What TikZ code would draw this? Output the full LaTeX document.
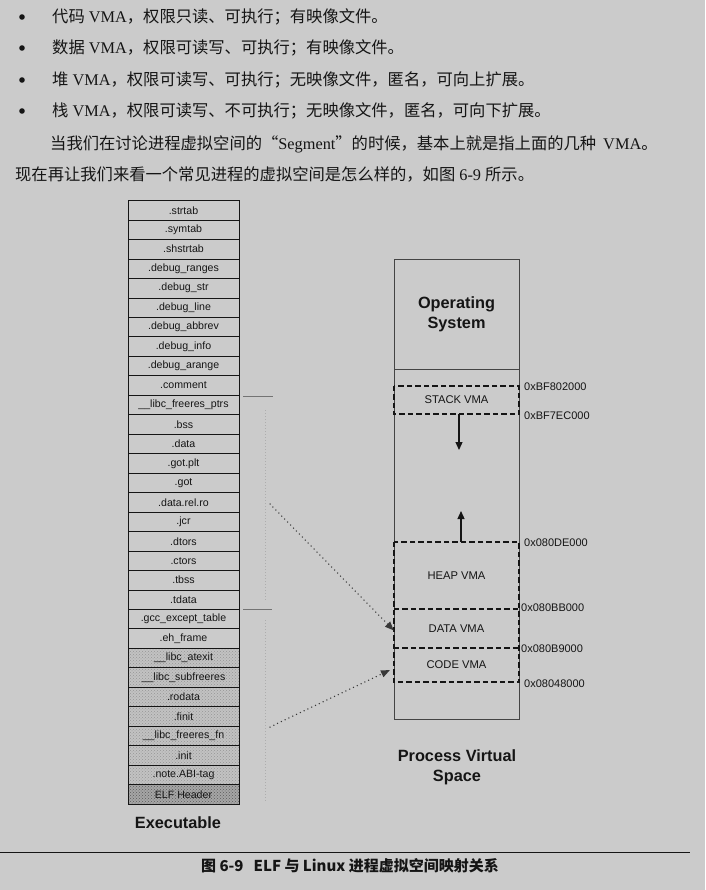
\documentclass[tikz,border=0pt]{standalone}
\usepackage{fontspec}
\setmainfont{Liberation Serif}
\setsansfont{Liberation Sans}
\newfontfamily\cjk{Noto Sans CJK SC}
\usetikzlibrary{arrows.meta,patterns}
\definecolor{bg}{HTML}{CBCBCB}
\definecolor{ink}{HTML}{151515}
\definecolor{shadeA}{HTML}{C2C2C2}
\definecolor{shadeB}{HTML}{A6A6A6}
\begin{document}
\begin{tikzpicture}[x=1pt,y=-1pt,
  bodytext/.style={anchor=west,inner sep=0pt,text=ink,font=\fontsize{16.3}{19}\selectfont},
  secrow/.style={draw=ink,line width=0.7pt,minimum width=111pt,minimum height=19.47pt,inner sep=0pt,text=ink,font=\sffamily\fontsize{10.6}{12}\selectfont},
  vasbox/.style={draw=ink!80,line width=0.7pt,minimum width=125pt,inner sep=0pt},
  vma/.style={minimum width=125pt,inner sep=0pt,text=ink,font=\sffamily\fontsize{11.2}{13}\selectfont},
  vmaline/.style={draw=ink,line width=1.8pt,dash pattern=on 5.5pt off 3pt},
  hexlab/.style={anchor=west,inner sep=0pt,text=ink,font=\sffamily\fontsize{11}{13}\selectfont},
  biglab/.style={align=center,inner sep=0pt,text=ink,font=\sffamily\bfseries\fontsize{16.3}{20}\selectfont},
  growarrow/.style={draw=ink,line width=1.3pt,-{Triangle[length=8pt,width=7pt]}},
  maparrow/.style={draw=ink!85,line width=1.5pt,line cap=round,dash pattern=on 0pt off 4.2pt,-{Triangle[length=9pt,width=7pt]}},
  bracket/.style={draw=ink!60,line width=0.7pt},
  faint/.style={draw=ink!35,line width=0.5pt,dash pattern=on 1pt off 2pt}
]
\fill[bg] (0,0) rectangle (705,890);
\useasboundingbox (0,0) rectangle (705,890);

% ---------- body text ----------
\foreach \yy in {17,48,80,111} \fill[ink] (22,\yy) circle (2.8pt);
\node[bodytext] (t1) at (52,17) {{\cjk 代码} VMA{\cjk ，权限只读、可执行；有映像文件。}};
\node[bodytext] (t2) at (52,48) {{\cjk 数据} VMA{\cjk ，权限可读写、可执行；有映像文件。}};
\node[bodytext] (t3) at (52,80) {{\cjk 堆} VMA{\cjk ，权限可读写、可执行；无映像文件，匿名，可向上扩展。}};
\node[bodytext] (t4) at (52,111) {{\cjk 栈} VMA{\cjk ，权限可读写、不可执行；无映像文件，匿名，可向下扩展。}};
\node[bodytext] (p1) at (50,144) {{\cjk 当我们在讨论进程虚拟空间的“}Segment{\cjk ”的时候，基本上就是指上面的几种}\hspace{7pt}VMA{\cjk 。}};
\node[bodytext] (p2) at (15,174) {{\cjk 现在再让我们来看一个常见进程的虚拟空间是怎么样的，如图} 6-9 {\cjk 所示。}};

% ---------- executable sections ----------
\fill[shadeA] (128,{200.5+23*19.47}) rectangle (239,{200.5+30*19.47});
\fill[pattern=crosshatch dots,pattern color=ink!45] (128,{200.5+23*19.47}) rectangle (239,{200.5+30*19.47});
\fill[shadeB] (128,{200.5+30*19.47}) rectangle (239,{200.5+31*19.47});
\fill[pattern=crosshatch dots,pattern color=ink!70] (128,{200.5+30*19.47}) rectangle (239,{200.5+31*19.47});
\foreach \lab [count=\i from 0] in {.strtab,.symtab,.shstrtab,.debug\_ranges,.debug\_str,.debug\_line,.debug\_abbrev,.debug\_info,.debug\_arange,.comment,\_\_libc\_freeres\_ptrs,.bss,.data,.got.plt,.got,.data.rel.ro,.jcr,.dtors,.ctors,.tbss,.tdata,.gcc\_except\_table,.eh\_frame,\_\_libc\_atexit,\_\_libc\_subfreeres,.rodata,.finit,\_\_libc\_freeres\_fn,.init,.note.ABI-tag,ELF Header}
  \node[secrow] (r\i) at (183.5,{200.5+\i*19.47+9.735}) {\lab};
\node[biglab] (exe) at (178,823) {Executable};

% brackets next to the sections
\draw[bracket] (243,396) -- (273,396);
\draw[bracket] (243,609) -- (272,609);
\draw[faint] (265,410) -- (265,600);
\draw[faint] (265,620) -- (265,802);

% ---------- process virtual space ----------
\node[vasbox,minimum height=460pt] (vas) at (456.5,489) {};
\node[vasbox,minimum height=110pt,biglab] (os) at (456.5,314) {Operating\\System};
\node[vma,minimum height=28pt] (stack) at (456.5,400) {STACK VMA};
\node[vma,minimum height=67pt] (heap) at (456.5,575.5) {HEAP VMA};
\node[vma,minimum height=39pt] (data) at (456.5,628.5) {DATA VMA};
\node[vma,minimum height=34pt] (code) at (456.5,665) {CODE VMA};
\draw[vmaline] (stack.north west) rectangle (stack.south east);
\draw[vmaline] (heap.north west) rectangle (code.south east);
\draw[vmaline] (data.north west) -- (data.north east);
\draw[vmaline] (code.north west) -- (code.north east);

\node[hexlab] (h1) at (524,387) {0xBF802000};
\node[hexlab] (h2) at (524,416) {0xBF7EC000};
\node[hexlab] (h3) at (524,543) {0x080DE000};
\node[hexlab] (h4) at (521,608) {0x080BB000};
\node[hexlab] (h5) at (521,649) {0x080B9000};
\node[hexlab] (h6) at (524,684) {0x08048000};

\coordinate (sdown) at (459,450);
\coordinate (hup) at (461,511);
\draw[growarrow] ([xshift=2.5pt]stack.south) -- (sdown);
\draw[growarrow] ([xshift=4.5pt]heap.north) -- (hup);

\coordinate (m1) at (270,504);
\coordinate (m2) at (270,727);
\coordinate (m2e) at (390,670);
\draw[maparrow] (m1) -- ([yshift=-2pt]data.west);
\draw[maparrow] (m2) -- (m2e);

\node[biglab] (pvs) at (457,767) {Process Virtual\\Space};

% ---------- caption ----------
\draw[ink,line width=1pt] (0,852) -- (690,852);
\node[inner sep=0pt,text=ink,font=\cjk\bfseries\fontsize{15}{17}\selectfont] (cap) at (350,866) {图 6-9\hspace{10pt}ELF 与 Linux 进程虚拟空间映射关系};
\end{tikzpicture}
\end{document}
